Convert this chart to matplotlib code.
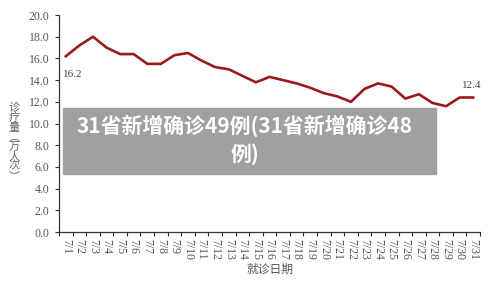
import numpy as np
import matplotlib
matplotlib.use('Agg')
import matplotlib.pyplot as plt
from matplotlib.patches import Rectangle

plt.rcParams['font.family'] = ['Liberation Serif', 'Noto Sans CJK SC', 'DejaVu Sans']

# daily visits (10k person-times), July 1 - 31
days = [f'7/{d}' for d in range(1, 32)]
visits = [16.2, 17.2, 18.0, 17.0, 16.4, 16.4, 15.5, 15.5, 16.3, 16.5,
          15.8, 15.2, 15.0, 14.4, 13.8, 14.3, 14.0, 13.7, 13.3, 12.8,
          12.5, 12.0, 13.2, 13.7, 13.4, 12.3, 12.7, 11.9, 11.6, 12.4, 12.4]
yticks = np.arange(0, 21, 2)
ylabel = '\n'.join('诊疗量︵万人次︶')
xlabel = '就诊日期'
overlay = '31省新增确诊49例(31省新增确诊48\n例)'

fig = plt.figure(figsize=(5, 2.84), dpi=100)
ax = fig.add_axes([0.118, 0.183, 0.842, 0.764])

x = np.arange(len(days))
ax.plot(x, visits, color='#9a1b1e', lw=1.9, solid_joinstyle='round')

ax.set_xlim(-0.5, len(days) - 0.5)
ax.set_ylim(0, 20)
ax.set_yticks(yticks)
ax.set_yticklabels([f'{v:.1f}' for v in yticks])

# ticks between days, labels at the day centres
ax.set_xticks(np.arange(-0.5, len(days)))
ax.set_xticklabels([])
ax.set_xticks(x, minor=True)
ax.set_xticklabels(days, minor=True, rotation=270)
ax.tick_params(axis='x', which='minor', length=0, pad=5)
ax.tick_params(axis='x', which='major', length=3, width=0.8, color='#333333')
ax.tick_params(axis='y', length=3, width=0.8, color='#333333', pad=4)
ax.tick_params(which='both', labelsize=8.5, labelcolor='#555555')

for s in ['top', 'right']:
    ax.spines[s].set_visible(False)
for s in ['left', 'bottom']:
    ax.spines[s].set_color('#333333')
    ax.spines[s].set_linewidth(0.9)

# first / last value labels
ax.annotate(f'{visits[0]:.1f}', (x[0], visits[0]), xytext=(-2, -15),
            textcoords='offset points', fontsize=8, color='#444444')
ax.annotate(f'{visits[-1]:.1f}', (x[-1], visits[-1]), xytext=(-8, 7),
            textcoords='offset points', fontsize=8, color='#444444')

fig.text(0.028, 0.5, ylabel, fontsize=8, color='#666666', ha='center', va='center',
         linespacing=0.95, family=['Noto Sans CJK SC', 'DejaVu Sans'])
fig.text(0.54, 0.05, xlabel, fontsize=8.5, color='#555555', ha='center', va='center',
         family=['Noto Sans CJK SC', 'DejaVu Sans'])

# grey caption box over the chart
fig.patches.append(Rectangle((0.126, 1 - 174 / 284), 0.746, 66 / 284,
                             transform=fig.transFigure, color='#a0a0a0', zorder=5))
fig.text(0.49, 1 - 140 / 284, overlay, fontsize=15, color='white', fontweight='heavy',
         ha='center', va='center', linespacing=1.35, zorder=6,
         family=['Noto Sans CJK SC', 'DejaVu Sans'])

fig.savefig('out.png', dpi=100)
